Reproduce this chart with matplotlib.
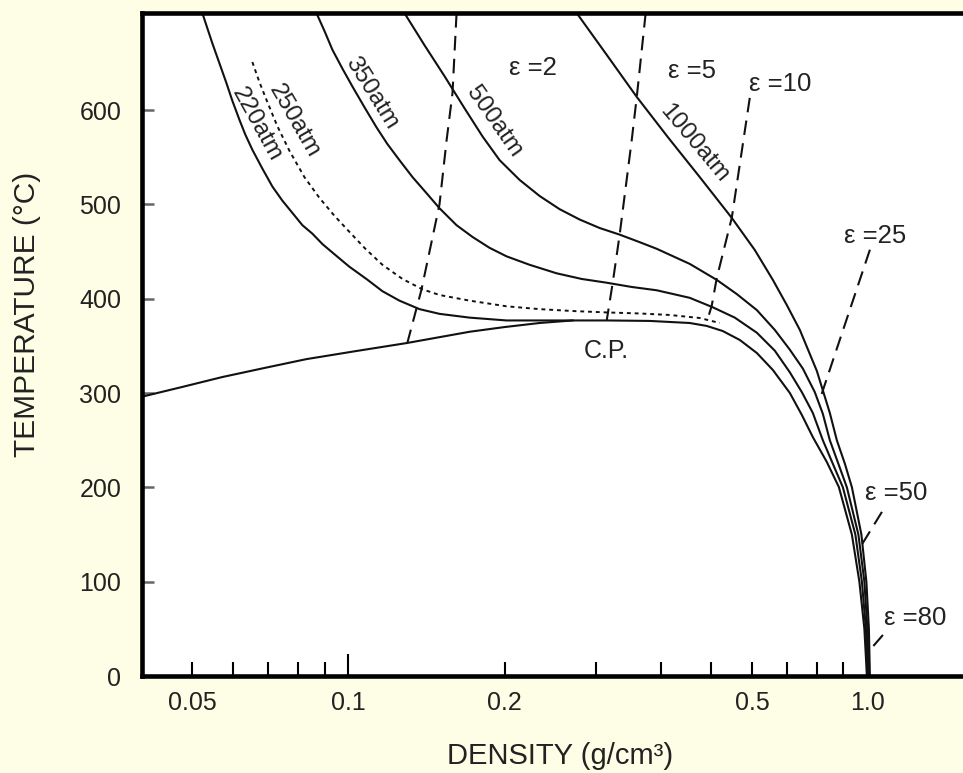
import matplotlib
matplotlib.use('Agg')
import matplotlib.pyplot as plt

plt.rcParams['font.family'] = ['Liberation Sans', 'DejaVu Sans']

# saturated vapour branch up to the critical point (density g/cm3, temperature C)
vap_rho = [0.0399, 0.04783, 0.05713, 0.06886, 0.0830, 0.1036, 0.1294, 0.1712, 0.2000, 0.2336, 0.2705]
vap_T = [296, 306.5, 317, 326.6, 336, 344.6, 353, 365, 370, 374.3, 377]

# isobars
p220_rho = [0.05228, 0.05345, 0.05465, 0.05638, 0.05816, 0.05973, 0.06162, 0.06328, 0.06528, 0.06825,
            0.07135, 0.07459, 0.07798, 0.08152, 0.08522, 0.08909, 0.09314, 0.1004, 0.1083, 0.1163,
            0.1254, 0.1371, 0.1498, 0.1712, 0.2017, 0.2336, 0.2705, 0.3148, 0.3808, 0.4548,
            0.4905, 0.5266, 0.5681, 0.6127, 0.6579, 0.7094, 0.7482, 0.7855, 0.8360, 0.8818,
            0.9343, 0.9659, 0.9876, 0.9987]
p220_T = [703, 687, 671, 650, 629, 610, 590, 574, 558, 538,
          519, 504, 491, 478, 469, 458, 449, 434, 421, 408,
          398, 389, 384, 380, 377, 377, 377, 377, 376.5, 374.3,
          371.2, 365.8, 356.3, 342.5, 324.5, 300.1, 276.8, 253.4, 226.9, 200.4,
          150, 100, 50, 0]

p250_rho = [0.06528, 0.06733, 0.06949, 0.07294, 0.07694, 0.08225, 0.08791, 0.09397, 0.1004, 0.1078,
            0.1163, 0.1271, 0.1389, 0.1498, 0.1712, 0.2017, 0.2336, 0.2705, 0.3148, 0.3643,
            0.4163, 0.4756, 0.5197]
p250_T = [651, 630, 611, 583, 557, 529, 507, 488, 471, 453,
          436, 421, 410, 404, 398, 392, 389, 387, 385.5, 384.4,
          382.8, 379.6, 374.3]

p350_rho = [0.08675, 0.0899, 0.09314, 0.09737, 0.1018, 0.1074, 0.1132, 0.1189, 0.1254, 0.1329,
            0.1414, 0.1498, 0.1616, 0.1735, 0.1871, 0.2017, 0.2235, 0.2519, 0.2816, 0.3148,
            0.3516, 0.3928, 0.4548, 0.5038, 0.5556, 0.6127, 0.6635, 0.7094, 0.7482, 0.7855,
            0.8213, 0.8586, 0.8978, 0.9489, 0.9768, 0.9943, 1.0032]
p350_T = [703, 684, 664, 644, 625, 603, 582, 564, 547, 529,
          512, 496, 478, 465.5, 454, 445, 436, 427, 421, 417,
          412.5, 409, 401, 391, 380, 364, 345, 322, 301, 279,
          250, 225, 200, 150, 100, 50, 0]

p500_rho = [0.1282, 0.1401, 0.1532, 0.1674, 0.1814, 0.1956, 0.2138, 0.2336, 0.2553, 0.2791,
            0.3050, 0.3333, 0.3643, 0.3928, 0.4548, 0.5129, 0.5605, 0.6127, 0.6635, 0.7094,
            0.7515, 0.7925, 0.8213, 0.8472, 0.8800, 0.9138, 0.9617, 0.9876, 1.0009, 1.0076]
p500_T = [703, 669, 636, 602, 572, 547, 526, 509, 495, 484,
          475, 468, 460, 453, 437, 420, 405, 388, 367, 346,
          326, 301, 278, 250, 225, 200, 150, 100, 50, 0]

p1000_rho = [0.2754, 0.3148, 0.3596, 0.4125, 0.4756, 0.5483, 0.6072, 0.6579, 0.6998, 0.7417,
             0.7998, 0.8472, 0.8739, 0.9058, 0.9345, 0.9746, 0.9964, 1.0076, 1.0121]
p1000_T = [703, 658.5, 614, 571.6, 529, 485.7, 451.7, 420, 393.4, 366.9,
           323.4, 278.9, 250, 225, 200, 150, 100, 50, 0]

# lines of constant dielectric constant
eps2_rho = [0.1616, 0.1587, 0.1546, 0.1498, 0.1382, 0.1300]
eps2_T = [703, 618, 568, 500, 409, 354]
eps5_rho = [0.3741, 0.3596, 0.3516, 0.3333, 0.3232, 0.3148]
eps5_T = [703, 614, 568, 468, 417, 377.5]
eps10_rho = [0.5938, 0.5483, 0.5129, 0.5017, 0.4905]
eps10_T = [613, 486, 422, 393, 375]
eps25_rho = [1.0121, 0.8102]
eps25_T = [452, 293]
eps50_rho = [1.0676, 0.9681]
eps50_T = [174, 136]
eps80_rho = [1.0723, 1.0121]
eps80_T = [43.5, 27.6]

eps_labels = ['ε =2', 'ε =5', 'ε =10', 'ε =25', 'ε =50', 'ε =80']
eps_label_rho = [0.2265, 0.4589, 0.679, 1.035, 1.136, 1.236]
eps_label_T = [645, 642, 628, 467, 194, 61.5]

p_labels = ['220atm', '250atm', '350atm', '500atm', '1000atm']
p_label_rho = [0.0665, 0.0787, 0.1108, 0.1913, 0.463]
p_label_T = [585, 588, 618, 588, 565]
p_label_rot = [-61, -60, -58, -55, -50]

xtick_pos = [0.05, 0.06, 0.07, 0.08, 0.09, 0.1, 0.2, 0.3, 0.4, 0.5, 0.6, 0.7, 0.8, 0.9, 1.0]
xtick_lab = ['0.05', '', '', '', '', '0.1', '0.2', '', '', '', '0.5', '', '', '', '1.0']
ytick_pos = [0, 100, 200, 300, 400, 500, 600]

BG = '#FEFEE6'
INK = '#111111'
TXT = '#222222'

fig = plt.figure(figsize=(9.63, 7.73), dpi=100, facecolor=BG)
ax = fig.add_axes([142 / 963, 97 / 773, 1 - 142 / 963, 663 / 773])
ax.set_facecolor('white')
ax.set_xscale('log')
ax.set_xlim(0.04, 1.53)
ax.set_ylim(0, 703)

lw = 1.5
ax.plot(vap_rho, vap_T, color=INK, lw=lw)
for r, t in [(p220_rho, p220_T), (p350_rho, p350_T), (p500_rho, p500_T), (p1000_rho, p1000_T)]:
    ax.plot(r, t, color=INK, lw=lw)
ax.plot(p250_rho, p250_T, color=INK, lw=1.4, dashes=(2, 2))

for r, t in [(eps2_rho, eps2_T), (eps5_rho, eps5_T), (eps10_rho, eps10_T),
             (eps25_rho, eps25_T), (eps50_rho, eps50_T), (eps80_rho, eps80_T)]:
    ax.plot(r, t, color=INK, lw=1.5, dashes=(7, 4))

for s, r, t in zip(eps_labels, eps_label_rho, eps_label_T):
    ax.text(r, t, s, fontsize=18.5, color=TXT, ha='center', va='center')

for s, r, t, rot in zip(p_labels, p_label_rho, p_label_T, p_label_rot):
    ax.text(r, t, s, fontsize=17.5, color=TXT, ha='center', va='center',
            rotation=rot, rotation_mode='anchor')

ax.text(0.3148, 345, 'C.P.', fontsize=18, color=TXT, ha='center', va='center')

# frame
for side in ['left', 'bottom', 'top']:
    ax.spines[side].set_linewidth(3.3)
    ax.spines[side].set_color('black')
ax.spines['right'].set_visible(False)

ax.minorticks_off()
ax.set_xticks(xtick_pos)
ax.set_xticklabels(xtick_lab)
ax.set_yticks(ytick_pos)
ax.tick_params(axis='x', direction='in', length=10, width=1.5, color='black',
               labelsize=18, labelcolor=TXT, pad=11, top=False)
ax.tick_params(axis='y', direction='in', length=8.5, width=1.8, color='#666666',
               labelsize=18, labelcolor=TXT, pad=15, right=False)
t01 = ax.xaxis.get_major_ticks()[5]
t01.tick1line.set_markersize(16)
t01.tick1line.set_color('#777777')

ax.set_xlabel('DENSITY (g/cm³)', fontsize=21, color=TXT)
ax.xaxis.set_label_coords(0.509, -0.100)
ax.set_ylabel('TEMPERATURE (°C)', fontsize=21.5, color=TXT)
ax.yaxis.set_label_coords(-0.123, 0.545)

fig.savefig('out.png', dpi=100, facecolor=BG)
